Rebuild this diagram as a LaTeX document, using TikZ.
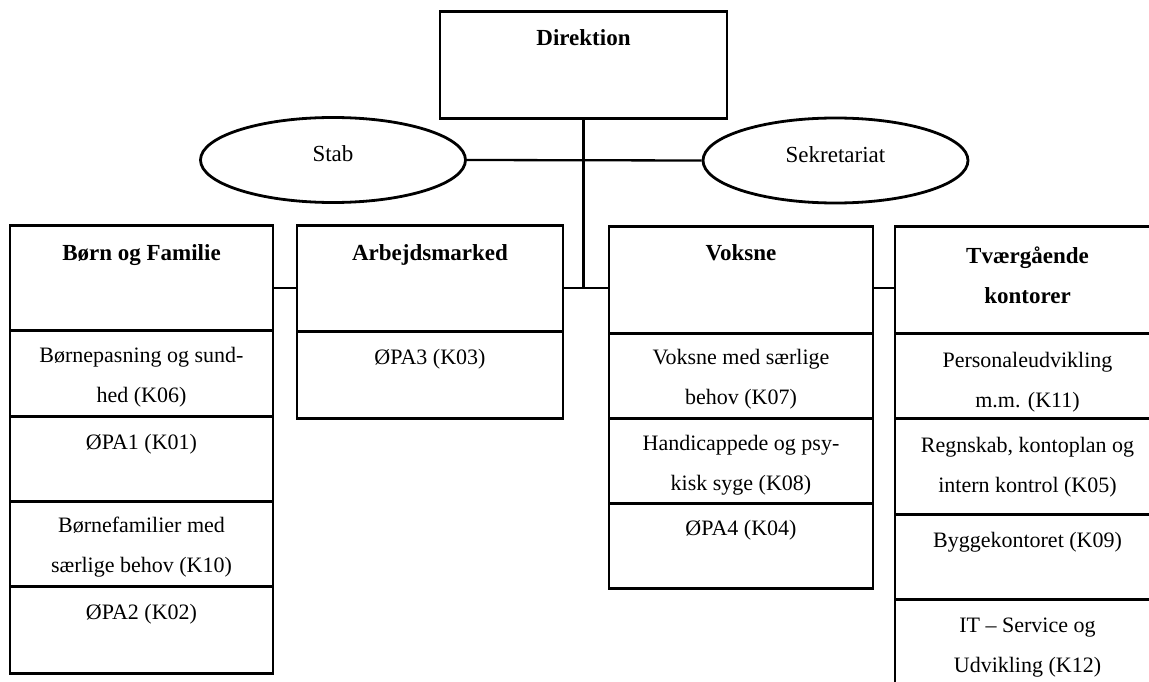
\documentclass[tikz,border=0pt]{standalone}
\usepackage{fontspec}
\setmainfont{Liberation Serif}
\usetikzlibrary{shapes.geometric}
\tikzset{
  box/.style={draw, line width=2.7pt, rectangle, inner sep=0pt, anchor=north, minimum width=264pt},
  oval/.style={draw, line width=2.8pt, ellipse, inner sep=0pt, minimum width=265pt, minimum height=85pt,
     font=\fontsize{23}{28}\selectfont, text height=16pt, text depth=12pt},
  txt/.style={inner sep=0pt, anchor=base, align=center, font=\fontsize{22}{40}\selectfont},
  hdr/.style={inner sep=0pt, anchor=base, align=center, font=\bfseries\fontsize{23}{40}\selectfont},
  link/.style={line width=2.3pt}
}
\begin{document}
\begin{tikzpicture}[x=1pt,y=-1pt]
\useasboundingbox (0,0) rectangle (1149,682);
\fill[white] (0,0) rectangle (1149,682);
% Direktion
\node[box, minimum width=287pt, minimum height=107pt] (dir) at (583.5,10) {};
\node[hdr] at ([yshift=-36pt]dir.north) {Direktion};
% Stab / Sekretariat
\node[oval] (stab) at (333,160) {Stab};
\node[oval] (sek) at (835.5,160.5) {Sekretariat};
% Boern og Familie
\node[box, minimum width=263pt, minimum height=105pt] (bf) at (141.5,224) {};
\node[box, minimum width=263pt, minimum height=86pt] (bf1) at (141.5,329) {};
\node[box, minimum width=263pt, minimum height=85pt] (bf2) at (141.5,415) {};
\node[box, minimum width=263pt, minimum height=85pt] (bf3) at (141.5,500) {};
\node[box, minimum width=263pt, minimum height=87pt] (bf4) at (141.5,585) {};
\node[hdr] at ([yshift=-36pt]bf.north) {Børn og Familie};
\node[txt] at ([yshift=-73pt]bf1.north) {Børnepasning og sund-\\hed (K06)};
\node[txt] at ([yshift=-34pt]bf2.north) {ØPA1 (K01)};
\node[txt] at ([yshift=-72pt]bf3.north) {Børnefamilier med\\særlige behov (K10)};
\node[txt] at ([yshift=-34pt]bf4.north) {ØPA2 (K02)};
% Arbejdsmarked
\node[box, minimum width=266pt, minimum height=106pt] (am) at (430,224) {};
\node[box, minimum width=266pt, minimum height=87pt] (am1) at (430,330) {};
\node[hdr] at ([yshift=-36pt]am.north) {Arbejdsmarked};
\node[txt] at ([yshift=-34pt]am1.north) {ØPA3 (K03)};
% Voksne
\node[box, minimum width=264pt, minimum height=107pt] (vo) at (741,225) {};
\node[box, minimum width=264pt, minimum height=85pt] (vo1) at (741,332) {};
\node[box, minimum width=264pt, minimum height=85pt] (vo2) at (741,417) {};
\node[box, minimum width=264pt, minimum height=85pt] (vo3) at (741,502) {};
\node[hdr] at ([yshift=-35pt]vo.north) {Voksne};
\node[txt] at ([yshift=-72pt]vo1.north) {Voksne med særlige\\behov (K07)};
\node[txt] at ([yshift=-73pt]vo2.north) {Handicappede og psy-\\kisk syge (K08)};
\node[txt] at ([yshift=-33pt]vo3.north) {ØPA4 (K04)};
% Tvaergaaende kontorer
\node[box, minimum width=265pt, minimum height=107pt] (tv) at (1027.5,225) {};
\node[box, minimum width=265pt, minimum height=85pt] (tv1) at (1027.5,332) {};
\node[box, minimum width=265pt, minimum height=96pt] (tv2) at (1027.5,417) {};
\node[box, minimum width=265pt, minimum height=85pt] (tv3) at (1027.5,513) {};
\node[box, minimum width=265pt, minimum height=122pt] (tv4) at (1027.5,598) {};
\node[hdr] at ([yshift=-78pt]tv.north) {Tværgående\\kontorer};
\node[txt] at ([yshift=-75pt]tv1.north) {Personaleudvikling\\m.m. (K11)};
\node[txt] at ([yshift=-75pt]tv2.north) {Regnskab, kontoplan og\\intern kontrol (K05)};
\node[txt] at ([yshift=-34pt]tv3.north) {Byggekontoret (K09)};
\node[txt] at ([yshift=-74pt]tv4.north) {IT – Service og\\Udvikling (K12)};
% connectors
\coordinate (j) at (586,288);
\draw[link] (stab.east) -- (sek.west);
\draw[link] (dir.south) -- (dir.south |- j);
\draw[link] (am.north east |- j) -- (vo.north west |- j);
\draw[link] (bf.north east |- j) -- (am.north west |- j);
\draw[link] (vo.north east |- j) -- (tv.north west |- j);
\end{tikzpicture}
\end{document}
